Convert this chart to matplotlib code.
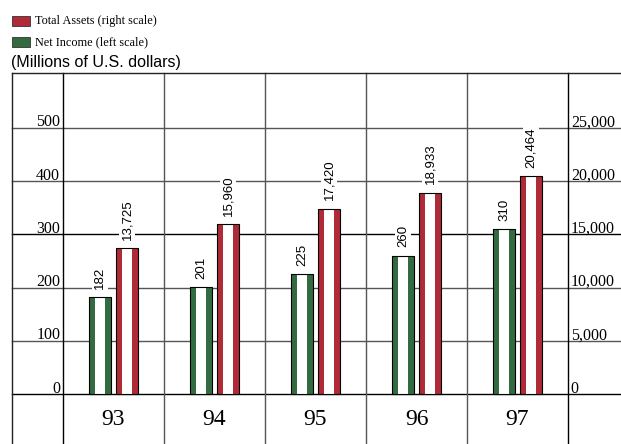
import matplotlib
matplotlib.use("Agg")
import matplotlib.pyplot as plt
from matplotlib.lines import Line2D
from matplotlib.patches import Rectangle
from matplotlib import transforms

# values (millions of U.S. dollars)
years = ["93", "94", "95", "96", "97"]
net_income = [182, 201, 225, 260, 310]
total_assets = [13725, 15960, 17420, 18933, 20464]
left_ticks = [0, 100, 200, 300, 400, 500]
right_ticks = [0, 5000, 10000, 15000, 20000, 25000]

RED = "#b02a37"
GREEN = "#336b41"
W, H = 621, 444

fig = plt.figure(figsize=(W / 100, H / 100), dpi=100)

def fx(x):
    return x / W

def fy(y):
    return 1 - y / H

# plot body: columns between x=63 and x=568, rows from y=73 to bottom
ax = fig.add_axes([fx(63), 0, fx(568) - fx(63), fy(73)])
ax2 = ax.twinx()
for a in (ax, ax2):
    for s in a.spines.values():
        s.set_visible(False)
    a.patch.set_visible(False)

px_per_unit = (394 - 128) / 500
ymin = -(444 - 394) / px_per_unit
ymax = 500 + (128 - 73) / px_per_unit
ax.set_ylim(ymin, ymax)
ax2.set_ylim(ymin * 50, ymax * 50)
ax.set_xlim(-0.5, len(years) - 0.5)
ax.set_xticks([])

# horizontal rules running across the whole table
hx = transforms.blended_transform_factory(fig.transFigure, ax.transData)
for t in left_ticks:
    ax.add_line(Line2D([fx(12), 1], [t, t], transform=hx, color="black" if t in (0, 300) else "#555555",
                       lw=1, clip_on=False, zorder=1))
fig.add_artist(Line2D([fx(12), 1], [fy(73), fy(73)], color="#222222", lw=1))
fig.add_artist(Line2D([fx(12), fx(12)], [0, fy(73)], color="#222222", lw=1))

# column separators
for k in range(len(years) + 1):
    edge = k in (0, len(years))
    ax.axvline(k - 0.5, color="black" if edge else "#555555", lw=1, zorder=1, clip_on=False)

# axis labels sitting on the rules
ax.set_yticks(left_ticks, [str(t) for t in left_ticks])
ax2.set_yticks(right_ticks, [f"{t:,}" for t in right_ticks])
ax.tick_params(axis="y", length=0, pad=2)
ax2.tick_params(axis="y", length=0, pad=2)
lift = transforms.ScaledTranslation(0, 1.5 / 100, fig.dpi_scale_trans)
for a in (ax, ax2):
    for lbl in a.get_yticklabels():
        lbl.set_family("Liberation Serif")
        lbl.set_fontsize(11.5)
        lbl.set_verticalalignment("baseline")
        lbl.set_transform(lbl.get_transform() + lift)

bw = 0.21
off = 0.134
xs = range(len(years))

def striped(a, x, h, color):
    a.bar(x, h, width=bw, color=color, lw=0, zorder=3)
    a.bar(x, h, width=bw * 0.45, color="white", lw=0, zorder=4)
    a.bar(x, h, width=bw, fill=False, edgecolor="black", lw=0.8, zorder=5)

for i in xs:
    striped(ax, i - off, net_income[i], GREEN)
    striped(ax2, i + off, total_assets[i], RED)
    ax.annotate(f"{net_income[i]:,}", (i - off, net_income[i]), xytext=(0, 6),
                textcoords="offset points", rotation=90, ha="center", va="bottom",
                family="Liberation Sans", fontsize=9.5, zorder=6,
                bbox=dict(boxstyle="square,pad=0.15", fc="white", ec="none"))
    ax2.annotate(f"{total_assets[i]:,}", (i + off, total_assets[i]), xytext=(0, 6),
                 textcoords="offset points", rotation=90, ha="center", va="bottom",
                 family="Liberation Sans", fontsize=9.5, zorder=6,
                 bbox=dict(boxstyle="square,pad=0.15", fc="white", ec="none"))
    ax.text(i, -47, years[i], ha="center", va="center", family="Liberation Serif", fontsize=17)

# legend and unit note
fig.add_artist(Rectangle((fx(12), fy(26)), fx(18), 10 / H, transform=fig.transFigure,
                         fc=RED, ec="#333333", lw=0.6))
fig.add_artist(Rectangle((fx(12), fy(47)), fx(18), 10 / H, transform=fig.transFigure,
                         fc=GREEN, ec="#333333", lw=0.6))
fig.text(fx(35), fy(21), "Total Assets (right scale)", va="center", family="Liberation Serif", fontsize=8.8)
fig.text(fx(35), fy(42), "Net Income (left scale)", va="center", family="Liberation Serif", fontsize=8.8)
fig.text(fx(11), fy(63), "(Millions of U.S. dollars)", va="center", family="Liberation Sans", fontsize=11.5)

fig.savefig("out.png", dpi=100)
